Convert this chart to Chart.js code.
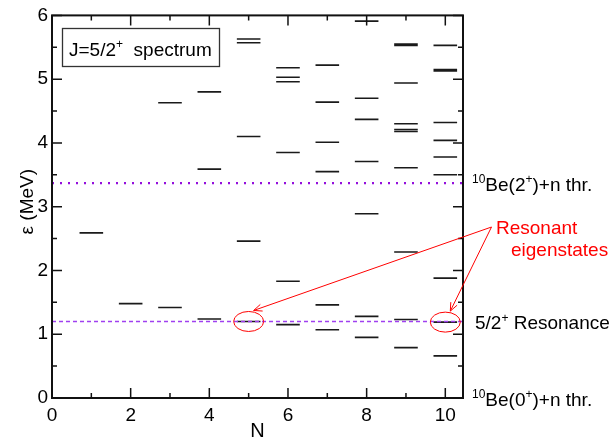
<!DOCTYPE html>
<html>
<head>
<meta charset="utf-8">
<title>J=5/2+ spectrum</title>
<script src="https://cdn.jsdelivr.net/npm/chart.js@4.4.1/dist/chart.umd.min.js"></script>
<style>
  html, body { margin: 0; padding: 0; background: #fff; }
  #wrap { width: 614px; height: 440px; }
</style>
</head>
<body>
<div id="wrap"><canvas id="spectrumChart" width="614" height="440"></canvas></div>
<script>
// eigenvalues (MeV) for each basis size N
var nValues = [1, 2, 3, 4, 5, 6, 7, 8, 9, 10];
var levelsN1 = [2.59];
var levelsN2 = [1.48];
var levelsN3 = [1.42, 4.63];
var levelsN4 = [1.24, 3.59, 4.80];
var levelsN5 = [1.20, 2.46, 4.10, 5.57, 5.63];
var levelsN6 = [1.15, 1.83, 3.85, 4.96, 5.03, 5.18];
var levelsN7 = [1.07, 1.46, 3.55, 4.01, 4.64, 5.22];
var levelsN8 = [0.95, 1.28, 2.89, 3.71, 4.37, 4.70, 5.91];
var levelsN9 = [0.79, 1.23, 2.29, 3.61, 4.18, 4.21, 4.30, 4.94, 5.53, 5.55];
var levelsN10 = [0.66, 1.19, 1.88, 3.50, 3.78, 4.04, 4.32, 5.13, 5.15, 5.53];
var allLevels = [levelsN1, levelsN2, levelsN3, levelsN4, levelsN5, levelsN6, levelsN7, levelsN8, levelsN9, levelsN10];

var thresholdBe2 = 3.37;     // 10Be(2+)+n
var thresholdBe0 = 0;        // 10Be(0+)+n
var resonanceEnergy = 1.20;  // 5/2+ resonance
var resonantStates = [{n: 5, e: 1.20}, {n: 10, e: 1.19}];

var xTickValues = [0, 2, 4, 6, 8, 10];
var yTickValues = [0, 1, 2, 3, 4, 5, 6];
var xMin = 0, xMax = 10.45, yMin = 0, yMax = 6;
var levelHalfWidth = 0.3;

var fontFam = "'Liberation Sans', Arial, Helvetica, sans-serif";

var levelPoints = [];
nValues.forEach(function (n, i) {
    allLevels[i].forEach(function (e) {
        levelPoints.push({x: n - levelHalfWidth, y: e}, {x: n + levelHalfWidth, y: e}, {x: n, y: null});
    });
});

function drawParts(ctx, parts, x, y, size) {
    parts.forEach(function (p) {
        if (p.sup) {
            ctx.font = Math.round(size * 0.63) + 'px ' + fontFam;
            ctx.fillText(p.t, x, y - size * 0.42);
        } else {
            ctx.font = size + 'px ' + fontFam;
            ctx.fillText(p.t, x, y);
        }
        x += ctx.measureText(p.t).width;
    });
}

function arrow(ctx, x0, y0, x1, y1) {
    var ang = Math.atan2(y1 - y0, x1 - x0), len = 9, spread = 0.4;
    ctx.beginPath();
    ctx.moveTo(x0, y0);
    ctx.lineTo(x1, y1);
    ctx.moveTo(x1 - len * Math.cos(ang - spread), y1 - len * Math.sin(ang - spread));
    ctx.lineTo(x1, y1);
    ctx.lineTo(x1 - len * Math.cos(ang + spread), y1 - len * Math.sin(ang + spread));
    ctx.stroke();
}

var frameAndNotes = {
    id: 'frameAndNotes',
    afterDraw: function (chart) {
        var ctx = chart.ctx, a = chart.chartArea;
        var xs = chart.scales.x, ys = chart.scales.y;
        ctx.save();
        // frame
        ctx.strokeStyle = '#111';
        ctx.lineWidth = 2;
        ctx.strokeRect(a.left, a.top, a.right - a.left, a.bottom - a.top);
        // inward ticks on all sides
        ctx.lineWidth = 1.5;
        ctx.beginPath();
        for (var v = xMin; v <= xMax; v += 1) {
            var px = xs.getPixelForValue(v), l = (v % 2 === 0) ? 10 : 5;
            ctx.moveTo(px, a.bottom); ctx.lineTo(px, a.bottom - l);
            ctx.moveTo(px, a.top); ctx.lineTo(px, a.top + l);
        }
        for (var w = yMin; w <= yMax; w += 0.5) {
            var py = ys.getPixelForValue(w), m = (w % 1 === 0) ? 10 : 5;
            ctx.moveTo(a.left, py); ctx.lineTo(a.left + m, py);
            ctx.moveTo(a.right, py); ctx.lineTo(a.right - m, py);
        }
        ctx.stroke();

        // legend box
        ctx.lineWidth = 1.3;
        ctx.strokeStyle = '#333';
        ctx.strokeRect(62.5, 28.5, 157, 38);
        ctx.fillStyle = '#000';
        ctx.textBaseline = 'alphabetic';
        drawParts(ctx, [{t: 'J=5/2'}, {t: '+', sup: true}, {t: '\u00a0 spectrum'}], 69, 56, 19);

        // right side labels
        var lx = a.right + 9;
        drawParts(ctx, [{t: '10', sup: true}, {t: 'Be(2'}, {t: '+', sup: true}, {t: ')+n thr.'}], lx, ys.getPixelForValue(thresholdBe2) + 8, 19);
        drawParts(ctx, [{t: '5/2'}, {t: '+', sup: true}, {t: ' Resonance'}], lx + 3, ys.getPixelForValue(resonanceEnergy) + 8, 19);
        drawParts(ctx, [{t: '10', sup: true}, {t: 'Be(0'}, {t: '+', sup: true}, {t: ')+n thr.'}], lx, ys.getPixelForValue(thresholdBe0) + 8, 19);

        // resonant eigenstates annotation
        ctx.fillStyle = '#ff0000';
        ctx.strokeStyle = '#ff0000';
        ctx.lineWidth = 1;
        ctx.font = '19px ' + fontFam;
        ctx.fillText('Resonant', 496, 234);
        ctx.fillText('eigenstates', 511, 256);
        var apx = 491.5, apy = 227;
        resonantStates.forEach(function (s) {
            var cx = xs.getPixelForValue(s.n), cy = ys.getPixelForValue(s.e);
            ctx.beginPath();
            ctx.ellipse(cx, cy, 15, 10, 0, 0, Math.PI * 2);
            ctx.stroke();
            arrow(ctx, apx, apy, cx + 5, cy - 11);
        });

        // axis titles
        ctx.fillStyle = '#000';
        ctx.font = '20px ' + fontFam;
        ctx.textAlign = 'center';
        ctx.fillText('N', (a.left + a.right) / 2, 437);
        ctx.translate(28, (a.top + a.bottom) / 2 - 5);
        ctx.rotate(-Math.PI / 2);
        ctx.textBaseline = 'middle';
        ctx.font = '19px ' + fontFam;
        ctx.fillText('\u03b5 (MeV)', 0, 0);
        ctx.restore();
    }
};

var ctx = document.getElementById('spectrumChart');
var spectrumChart = new Chart(ctx, {
    type: 'line',
    data: {
        datasets: [{
            label: 'resonance',
            data: [{x: xMin, y: resonanceEnergy}, {x: xMax, y: resonanceEnergy}],
            borderColor: '#a040f0',
            borderWidth: 1.5,
            borderDash: [4, 3],
            pointRadius: 0
        }, {
            label: 'levels',
            data: levelPoints,
            borderColor: '#1a1a1a',
            borderWidth: 1.6,
            pointRadius: 0,
            spanGaps: false,
            tension: 0
        }, {
            label: 'Be2 threshold',
            data: [{x: xMin, y: thresholdBe2}, {x: xMax, y: thresholdBe2}],
            borderColor: '#9410dc',
            borderWidth: 2.2,
            borderDash: [2, 6],
            pointRadius: 0
        }]
    },
    plugins: [frameAndNotes],
    options: {
        responsive: false,
        animation: false,
        devicePixelRatio: 1,
        layout: { padding: { left: 0, top: 14, right: 151, bottom: 0 } },
        plugins: { legend: { display: false }, tooltip: { enabled: false } },
        scales: {
            x: {
                type: 'linear',
                min: xMin,
                max: xMax,
                grid: { display: false, drawTicks: false },
                border: { display: false },
                ticks: { color: '#000', font: { family: fontFam, size: 19 }, padding: 6, maxRotation: 0, autoSkip: false },
                afterBuildTicks: function (s) { s.ticks = xTickValues.map(function (v) { return {value: v}; }); },
                afterFit: function (s) { s.height = 42; }
            },
            y: {
                type: 'linear',
                min: yMin,
                max: yMax,
                grid: { display: false, drawTicks: false },
                border: { display: false },
                ticks: { color: '#000', font: { family: fontFam, size: 19 }, padding: 4 },
                afterBuildTicks: function (s) { s.ticks = yTickValues.map(function (v) { return {value: v}; }); },
                afterFit: function (s) { s.width = 52; }
            }
        }
    }
});
</script>
</body>
</html>
